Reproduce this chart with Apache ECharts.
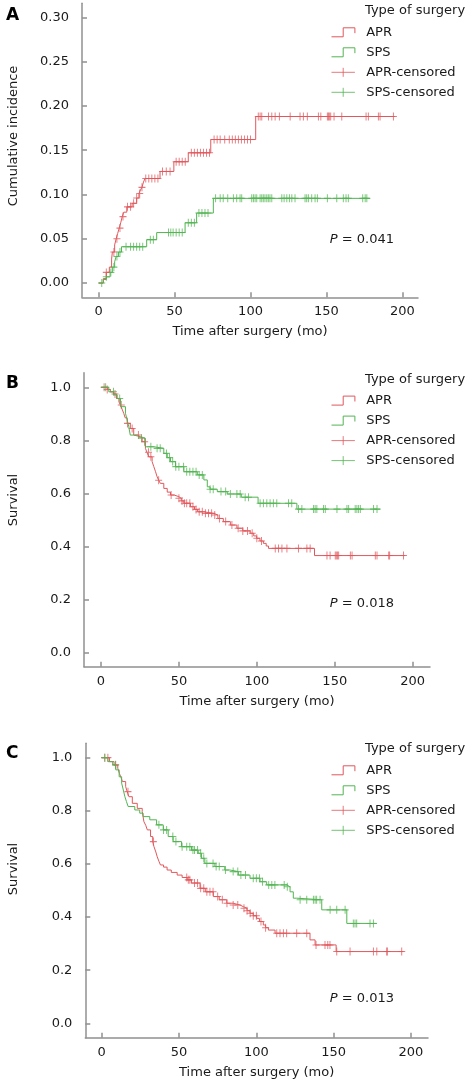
<!DOCTYPE html>
<html>
<head>
<meta charset="utf-8">
<script src="https://cdn.jsdelivr.net/npm/echarts@6/dist/echarts.min.js"></script>
<style>html,body{margin:0;padding:0;background:#fff}#c{width:472px;height:1086px}</style>
</head>
<body>
<div id="c"></div>
<script>
// ---------- DATA ----------
const seriesNames = ['APR', 'SPS', 'APR-censored', 'SPS-censored'];
const legendTitle = 'Type of surgery';
const panelLetters = ['A', 'B', 'C'];
const yTitles = ['Cumulative incidence', 'Survival', 'Survival'];
const xTitle = 'Time after surgery (mo)';
const pTexts = ['0.041', '0.018', '0.013'];
const xTicks = [0, 50, 100, 150, 200];
const yTicksA = [0, 0.05, 0.10, 0.15, 0.20, 0.25, 0.30];
const yTicksBC = [0, 0.2, 0.4, 0.6, 0.8, 1.0];

// Panel A: cumulative incidence, step points [time, value]
const aprA = [[0,0],[3,0.005],[5,0.012],[7,0.018],[8.5,0.027],[9,0.035],[10.5,0.043],[11.5,0.050],[12.5,0.056],[13.5,0.062],[14.5,0.068],[15.5,0.075],[16.5,0.080],[18.5,0.086],[22,0.090],[25,0.096],[26.5,0.101],[27.5,0.105],[28.5,0.108],[29.5,0.114],[30.5,0.118],[40.4,0.126],[49.5,0.137],[59,0.147],[73.8,0.162],[103.4,0.188],[195,0.188]];
const spsA = [[0,0],[3,0.004],[5,0.007],[7.5,0.012],[9,0.018],[10.5,0.024],[11.5,0.030],[13,0.035],[15,0.041],[31.6,0.049],[38.2,0.057],[56.9,0.068],[64.5,0.079],[75.5,0.0956],[178.7,0.0956]];
const aprCensA = [5,10,12,14,16,19,21,23,25,27,28.5,31,33,35,37,39,42,44.5,47,51,53,55,57,61,63,65,67,69,71,73,76,78,80,83,86,88,90,92,94,96,98,100,105.1,106.3,107.4,111.8,114,116.2,119,126.1,132.6,134.8,137.4,144.7,146.3,150.6,151.3,151.9,152.8,155,160.1,176.1,177.6,184.2,185.3,194.1];
const spsCensA = [2,5,8,10,12,14,18,21,23,25,27,29,34,36,46,47.5,49,51,53,55,59,61,63,66,68,70,72,77,80,82,85,88.7,90.9,93.1,94.2,100.8,101.9,103,104.1,106.3,107.4,108.4,109.5,110.7,111.7,112.8,114,120.6,122.1,123.9,125.6,127.2,129.3,135.9,137,138.1,140.3,142.5,144,150.6,156.8,161.1,162.9,164.4,173.9,175.5,176.6];

// Panel B: survival
const aprB = [[0,1],[4,0.992],[6,0.983],[8,0.975],[10,0.958],[11.5,0.945],[12.5,0.933],[13.5,0.918],[14.6,0.902],[15.5,0.885],[16.8,0.864],[18.8,0.845],[21,0.820],[24.2,0.812],[26.4,0.795],[28.5,0.770],[29.5,0.755],[30.6,0.738],[32.8,0.720],[33.9,0.701],[35,0.682],[36,0.663],[37,0.650],[38.1,0.638],[40.3,0.619],[42.5,0.605],[44.6,0.594],[47,0.588],[49.9,0.582],[51.5,0.572],[53.2,0.563],[57.4,0.550],[60,0.540],[62,0.531],[66,0.525],[72.1,0.519],[75,0.506],[78.5,0.494],[83,0.481],[87.2,0.469],[91,0.459],[95.7,0.450],[98,0.440],[99.9,0.431],[102,0.421],[104.2,0.412],[106,0.402],[107.5,0.393],[137,0.366],[195.2,0.366]];
const spsB = [[0,1],[5,0.983],[8.3,0.971],[10.4,0.958],[12.5,0.927],[15.7,0.902],[16.8,0.877],[17.8,0.852],[18.8,0.820],[21,0.814],[25.3,0.808],[28.5,0.776],[33.9,0.770],[40.3,0.751],[42.5,0.735],[44.6,0.720],[47.8,0.701],[53.2,0.682],[61.8,0.670],[66,0.651],[68.2,0.625],[70,0.616],[74.6,0.607],[81,0.598],[90,0.586],[100.8,0.563],[125.7,0.541],[179.2,0.541]];
const aprCensB = [2,4,9,13,17,20,24,28,30.5,32,37,45,50,52,53.5,55,57,59,61,63,65,67,69,71,73,76,80,84,88,91,94,97,100,103,111.8,113.9,116.1,119.3,126.7,132.1,134.2,145,147,150.3,151,151.8,152.5,160,161.1,176,177.1,184.6,185.2,194.1];
const spsCensB = [3,8,12,26,32,36,38,42,44,46,48,50,53,55,57,59,61,63,65,70,72,77,80,83,87.2,89.3,92.5,94.6,102.1,104.2,106.4,108.5,110.6,112.8,120.3,122.4,126.7,128.9,136.4,137.4,138.5,142.8,143.9,151.4,157.8,158.9,163.1,164.2,165.3,166.4,174.9,177.1];

// Panel C: survival
const aprC = [[0,1],[5,0.985],[8,0.972],[10.4,0.960],[11.5,0.940],[12.5,0.925],[13.4,0.910],[15.5,0.891],[16.5,0.872],[17.6,0.853],[19.8,0.828],[23,0.809],[26.2,0.797],[27.3,0.759],[28.5,0.745],[29.5,0.728],[31.6,0.703],[33,0.684],[33.8,0.665],[35,0.645],[35.9,0.627],[37,0.610],[38,0.596],[40,0.588],[42.3,0.577],[45,0.568],[48.8,0.558],[52,0.549],[55.3,0.540],[58,0.528],[63.6,0.508],[67,0.495],[72.2,0.477],[76,0.465],[80.9,0.452],[85,0.445],[89.5,0.439],[91.6,0.433],[94,0.424],[95.9,0.414],[98,0.405],[100.2,0.395],[102,0.383],[104.5,0.370],[106,0.360],[107.8,0.351],[112.1,0.339],[134.7,0.314],[138,0.295],[151.6,0.270],[195.1,0.270]];
const spsC = [[0,1],[4,0.985],[7.1,0.973],[9.1,0.954],[11.3,0.928],[12.9,0.904],[14,0.878],[15,0.853],[16,0.835],[17.1,0.816],[21.4,0.803],[24.6,0.791],[26.8,0.778],[31.1,0.766],[35.5,0.747],[39.8,0.728],[43,0.703],[46.2,0.684],[51.6,0.665],[58.1,0.652],[62.4,0.640],[64.5,0.621],[66.7,0.602],[73.2,0.590],[79.6,0.577],[83,0.571],[88.4,0.558],[95.9,0.546],[102.4,0.533],[106.7,0.521],[119.7,0.514],[121.8,0.495],[123.9,0.471],[126.1,0.465],[142.3,0.427],[158.5,0.376],[177.9,0.376]];
const aprCensC = [2,4,9,17,33.4,55,56,57,60,62,64,66,68,70,72,75,78,81,85,88,92,94,96,98,100,103,106,113.2,115.3,117.5,119.6,126.1,132.6,138.6,144.4,146.2,147.6,152,160.6,175.7,177.9,184.3,184.7,194];
const spsCensC = [2,9,37,40,42,46,48,52,55,57,59,60,62,64,66,68,72,74,76,80,85,88,90,93,98,100,102,104,108,110,112,118,120,128.3,132.6,136.9,138,139,141.2,147.7,152,157.4,162.7,163.8,164.9,173.5,175.7];

// ---------- LAYOUT / STYLE ----------
const FONT = 'DejaVu Sans';
const RED = '#e0585c';
const GREEN = '#52b452';
const AXIS = '#909090';
const TXT = '#1a1a1a';

const panels = [
  {apr: aprA, sps: spsA, aprC: aprCensA, spsC: spsCensA, grid: {left: 82, top: 3.3, width: 336, height: 294}, xMin: -11, xMax: 210.3, yMin: -0.0161, yMax: 0.3158, yTicks: yTicksA, dec: 2, letterY: 16, titleY: 136, legendY: 11, pY: 240},
  {apr: aprB, sps: spsB, aprC: aprCensB, spsC: spsCensB, grid: {left: 84, top: 372.7, width: 346, height: 294}, xMin: -10.9, xMax: 211.1, yMin: -0.0527, yMax: 1.055, yTicks: yTicksBC, dec: 1, letterY: 384, titleY: 500, legendY: 379.3, pY: 603.3},
  {apr: aprC, sps: spsC, aprC: aprCensC, spsC: spsCensC, grid: {left: 85.3, top: 743.3, width: 342.7, height: 294.4}, xMin: -10.6, xMax: 211.0, yMin: -0.0542, yMax: 1.054, yTicks: yTicksBC, dec: 1, letterY: 754, titleY: 869, legendY: 749, pY: 998.3}
];

function stepAt(curve, t) {
  let v = curve[0][1];
  for (const p of curve) { if (p[0] <= t) v = p[1]; else break; }
  return v;
}

const plusPath = 'path://M5,0 L5,10 M0,5 L10,5';
const stepIcon = 'path://M0,10 L13,10 L13,0 L26,0 L26,6';
const plusIcon = 'path://M0,5 L26,5 M13,0 L13,10';
const legendColors = [RED, GREEN, RED, GREEN];
const legendIcons = [stepIcon, stepIcon, plusIcon, plusIcon];

const grids = [], xAxes = [], yAxes = [], series = [], legends = [], graphics = [];
panels.forEach((P, i) => {
  grids.push(Object.assign({containLabel: false}, P.grid));
  const axLine = {show: true, onZero: false, lineStyle: {color: AXIS, width: 1.5}};
  xAxes.push({
    gridIndex: i, type: 'value', min: P.xMin, max: P.xMax,
    axisLine: axLine,
    axisTick: {show: true, inside: true, length: 5, customValues: xTicks, lineStyle: {color: AXIS, width: 1.5}},
    axisLabel: {customValues: xTicks, margin: 8, fontFamily: FONT, fontSize: 13, color: TXT},
    splitLine: {show: false},
    name: xTitle, nameLocation: 'middle', nameGap: 28,
    nameTextStyle: {fontFamily: FONT, fontSize: 13, color: TXT}
  });
  yAxes.push({
    gridIndex: i, type: 'value', min: P.yMin, max: P.yMax,
    axisLine: axLine,
    axisTick: {show: true, inside: true, length: 5, customValues: P.yTicks, lineStyle: {color: AXIS, width: 1.5}},
    axisLabel: {customValues: P.yTicks, margin: 13, fontFamily: FONT, fontSize: 13, color: TXT,
      formatter: v => Number(v).toFixed(P.dec)},
    splitLine: {show: false}
  });
  series.push({name: 'APR', type: 'line', xAxisIndex: i, yAxisIndex: i, step: 'end', showSymbol: false,
    data: P.apr, lineStyle: {color: RED, width: 1}, itemStyle: {color: RED}, animation: false, silent: true});
  series.push({name: 'SPS', type: 'line', xAxisIndex: i, yAxisIndex: i, step: 'end', showSymbol: false,
    data: P.sps, lineStyle: {color: GREEN, width: 1}, itemStyle: {color: GREEN}, animation: false, silent: true});
  series.push({name: 'APR-censored', type: 'scatter', xAxisIndex: i, yAxisIndex: i,
    data: P.aprC.map(t => [t, stepAt(P.apr, t)]), symbol: plusPath, symbolSize: [7, 8],
    itemStyle: {color: 'none', borderColor: RED, borderWidth: 1}, animation: false, silent: true});
  series.push({name: 'SPS-censored', type: 'scatter', xAxisIndex: i, yAxisIndex: i,
    data: P.spsC.map(t => [t, stepAt(P.sps, t)]), symbol: plusPath, symbolSize: [7, 8],
    itemStyle: {color: 'none', borderColor: GREEN, borderWidth: 1}, animation: false, silent: true});
  legends.push({
    orient: 'vertical', left: 329, top: P.legendY + 13.3, padding: 0,
    itemWidth: 26, itemHeight: 9, itemGap: 4, selectedMode: false,
    textStyle: {fontFamily: FONT, fontSize: 13, color: TXT, lineHeight: 16, padding: [0, 0, 0, 5]},
    data: seriesNames.map((n, k) => ({
      name: n, icon: legendIcons[k],
      itemStyle: {color: 'none', borderColor: legendColors[k], borderWidth: 1},
      lineStyle: {color: legendColors[k], width: 1}
    }))
  });
  graphics.push({type: 'text', x: 365, y: P.legendY, style: {text: legendTitle, fill: TXT,
    font: '13px "' + FONT + '"', textAlign: 'left', textVerticalAlign: 'middle'}});
  graphics.push({type: 'text', x: 6, y: P.letterY, style: {text: panelLetters[i], fill: '#000',
    font: 'bold 17px "' + FONT + '"', textAlign: 'left', textVerticalAlign: 'middle'}});
  graphics.push({type: 'text', x: 13.7, y: P.titleY, rotation: Math.PI / 2, style: {text: yTitles[i], fill: TXT,
    font: '13px "' + FONT + '"', textAlign: 'center', textVerticalAlign: 'middle'}});
  graphics.push({type: 'text', x: 394, y: P.pY, style: {text: '{i|P} = ' + pTexts[i], fill: TXT,
    font: '13px "' + FONT + '"', textAlign: 'right', textVerticalAlign: 'middle',
    rich: {i: {fontStyle: 'italic', fontFamily: FONT, fontSize: 13, fill: TXT}}}});
});

const chart = echarts.init(document.getElementById('c'), null, {renderer: 'canvas'});
chart.setOption({
  animation: false,
  backgroundColor: '#fff',
  grid: grids, xAxis: xAxes, yAxis: yAxes, series: series, legend: legends, graphic: graphics
});
</script>
</body>
</html>
